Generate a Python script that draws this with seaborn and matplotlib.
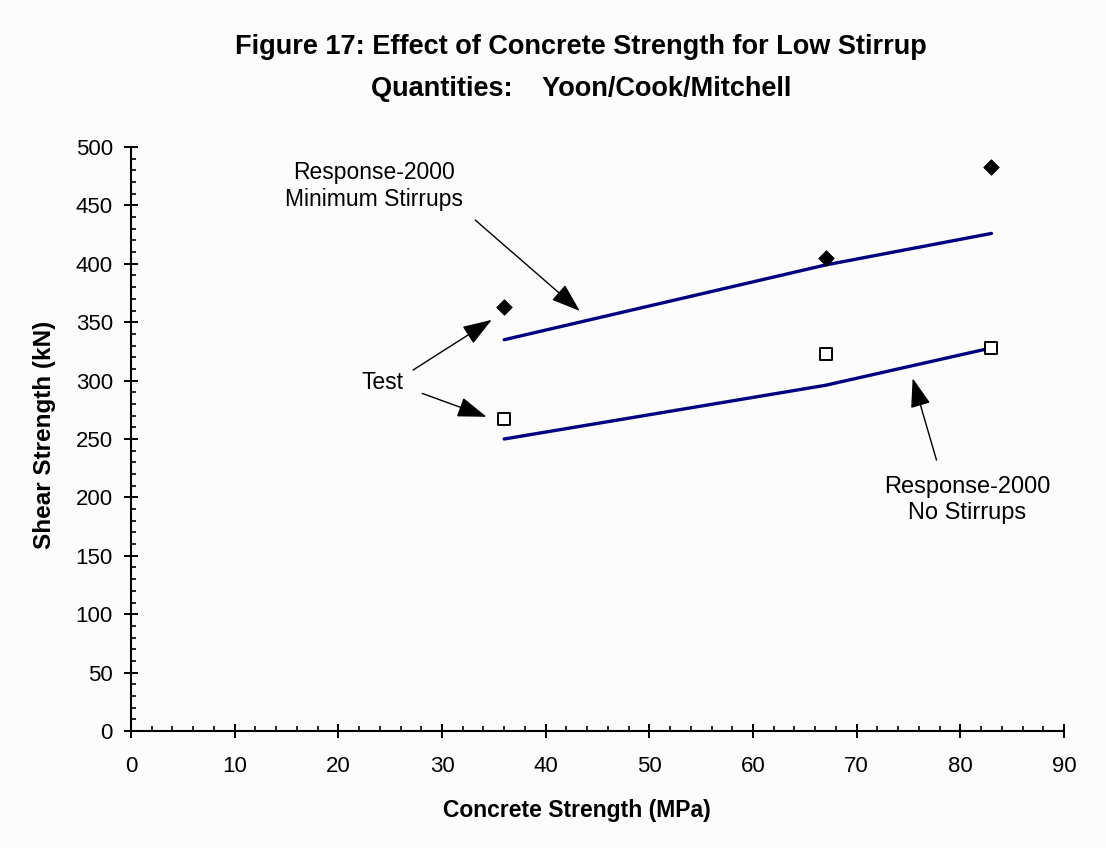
import matplotlib
matplotlib.use("Agg")
import matplotlib.pyplot as plt
import seaborn as sns
import pandas as pd
from matplotlib.ticker import MultipleLocator

# Data
strength = [36, 67, 83]
test_min_stirrups = [363, 405, 483]
test_no_stirrups = [267, 323, 328]
r2000_min_stirrups = [335, 399, 426]
r2000_no_stirrups = [250, 296, 328]

title_line1 = "Figure 17: Effect of Concrete Strength for Low Stirrup"
title_line2 = "Quantities:    Yoon/Cook/Mitchell"
xlabel = "Concrete Strength (MPa)"
ylabel = "Shear Strength (kN)"

sns.set_theme(style="ticks")
plt.rcParams['font.family'] = ['Liberation Sans', 'DejaVu Sans']
plt.rcParams['text.color'] = 'black'
plt.rcParams['axes.labelcolor'] = 'black'

W, H = 1106, 848
fig = plt.figure(figsize=(W / 100, H / 100), dpi=100, facecolor='#fcfcfc')
ax = fig.add_axes([131 / W, 1 - 731 / H, (1064 - 131) / W, (731 - 147) / H])
ax.set_facecolor('#fcfcfc')

df_lines = pd.DataFrame({
    'x': strength * 2,
    'y': r2000_min_stirrups + r2000_no_stirrups,
    's': ['min'] * 3 + ['no'] * 3,
})
sns.lineplot(data=df_lines, x='x', y='y', units='s', estimator=None,
             color='#000080', lw=2.4, ax=ax, legend=False)
sns.scatterplot(x=strength, y=test_min_stirrups, marker='D', s=62,
                color='black', edgecolor='black', ax=ax, zorder=5)
sns.scatterplot(x=strength, y=test_no_stirrups, marker='s', s=70,
                facecolor='white', edgecolor='black', linewidth=1.4, ax=ax, zorder=5)

ax.set_xlim(0, 90)
ax.set_ylim(0, 500)
ax.xaxis.set_major_locator(MultipleLocator(10))
ax.xaxis.set_minor_locator(MultipleLocator(2))
ax.yaxis.set_major_locator(MultipleLocator(50))
ax.yaxis.set_minor_locator(MultipleLocator(10))
ax.tick_params(which='major', direction='inout', length=10, width=1.4,
               labelsize=16, colors='black')
ax.tick_params(axis='x', which='major', pad=13)
ax.tick_params(axis='y', which='major', pad=8)
ax.tick_params(which='minor', direction='in', length=3.5, width=1.2, colors='black')
for s in ['top', 'right']:
    ax.spines[s].set_visible(False)
for s in ['left', 'bottom']:
    ax.spines[s].set_linewidth(1.5)
    ax.spines[s].set_color('black')

ax.set_xlabel(xlabel, fontsize=16.5, fontweight='bold')
ax.set_ylabel(ylabel, fontsize=17.5, fontweight='bold')
ax.xaxis.set_label_coords(577 / W, 1 - 811 / H, transform=fig.transFigure)
ax.yaxis.set_label_coords(45 / W, 1 - 435 / H, transform=fig.transFigure)
ax.xaxis.label.set_va('center')
ax.yaxis.label.set_va('center')

fig.text(581 / W, 1 - 54 / H, title_line1, ha='center', va='baseline',
         fontsize=19.5, fontweight='bold')
fig.text(581 / W, 1 - 96 / H, title_line2, ha='center', va='baseline',
         fontsize=19.5, fontweight='bold')

ap = dict(arrowstyle='-|>,head_length=1.3,head_width=0.45', color='black',
          lw=1.0, mutation_scale=14, shrinkA=0, shrinkB=0)
ax.annotate('', xy=(43.3, 359.6), xytext=(33.2, 437.5), arrowprops=ap)
ax.text(23.4, 466.6, 'Response-2000\nMinimum Stirrups', ha='center', va='center',
        fontsize=16.5, linespacing=1.2)

ax.text(24.25, 298.4, 'Test', ha='center', va='center', fontsize=16.5)
ax.annotate('', xy=(34.8, 352), xytext=(27.2, 309), arrowprops=ap)
ax.annotate('', xy=(34.3, 269), xytext=(28.1, 289), arrowprops=ap)

ax.annotate('', xy=(75.4, 302), xytext=(77.7, 232), arrowprops=ap)
ax.text(80.66, 197.8, 'Response-2000\nNo Stirrups', ha='center', va='center',
        fontsize=17, linespacing=1.2)

fig.savefig('out.png', dpi=100, facecolor=fig.get_facecolor())
